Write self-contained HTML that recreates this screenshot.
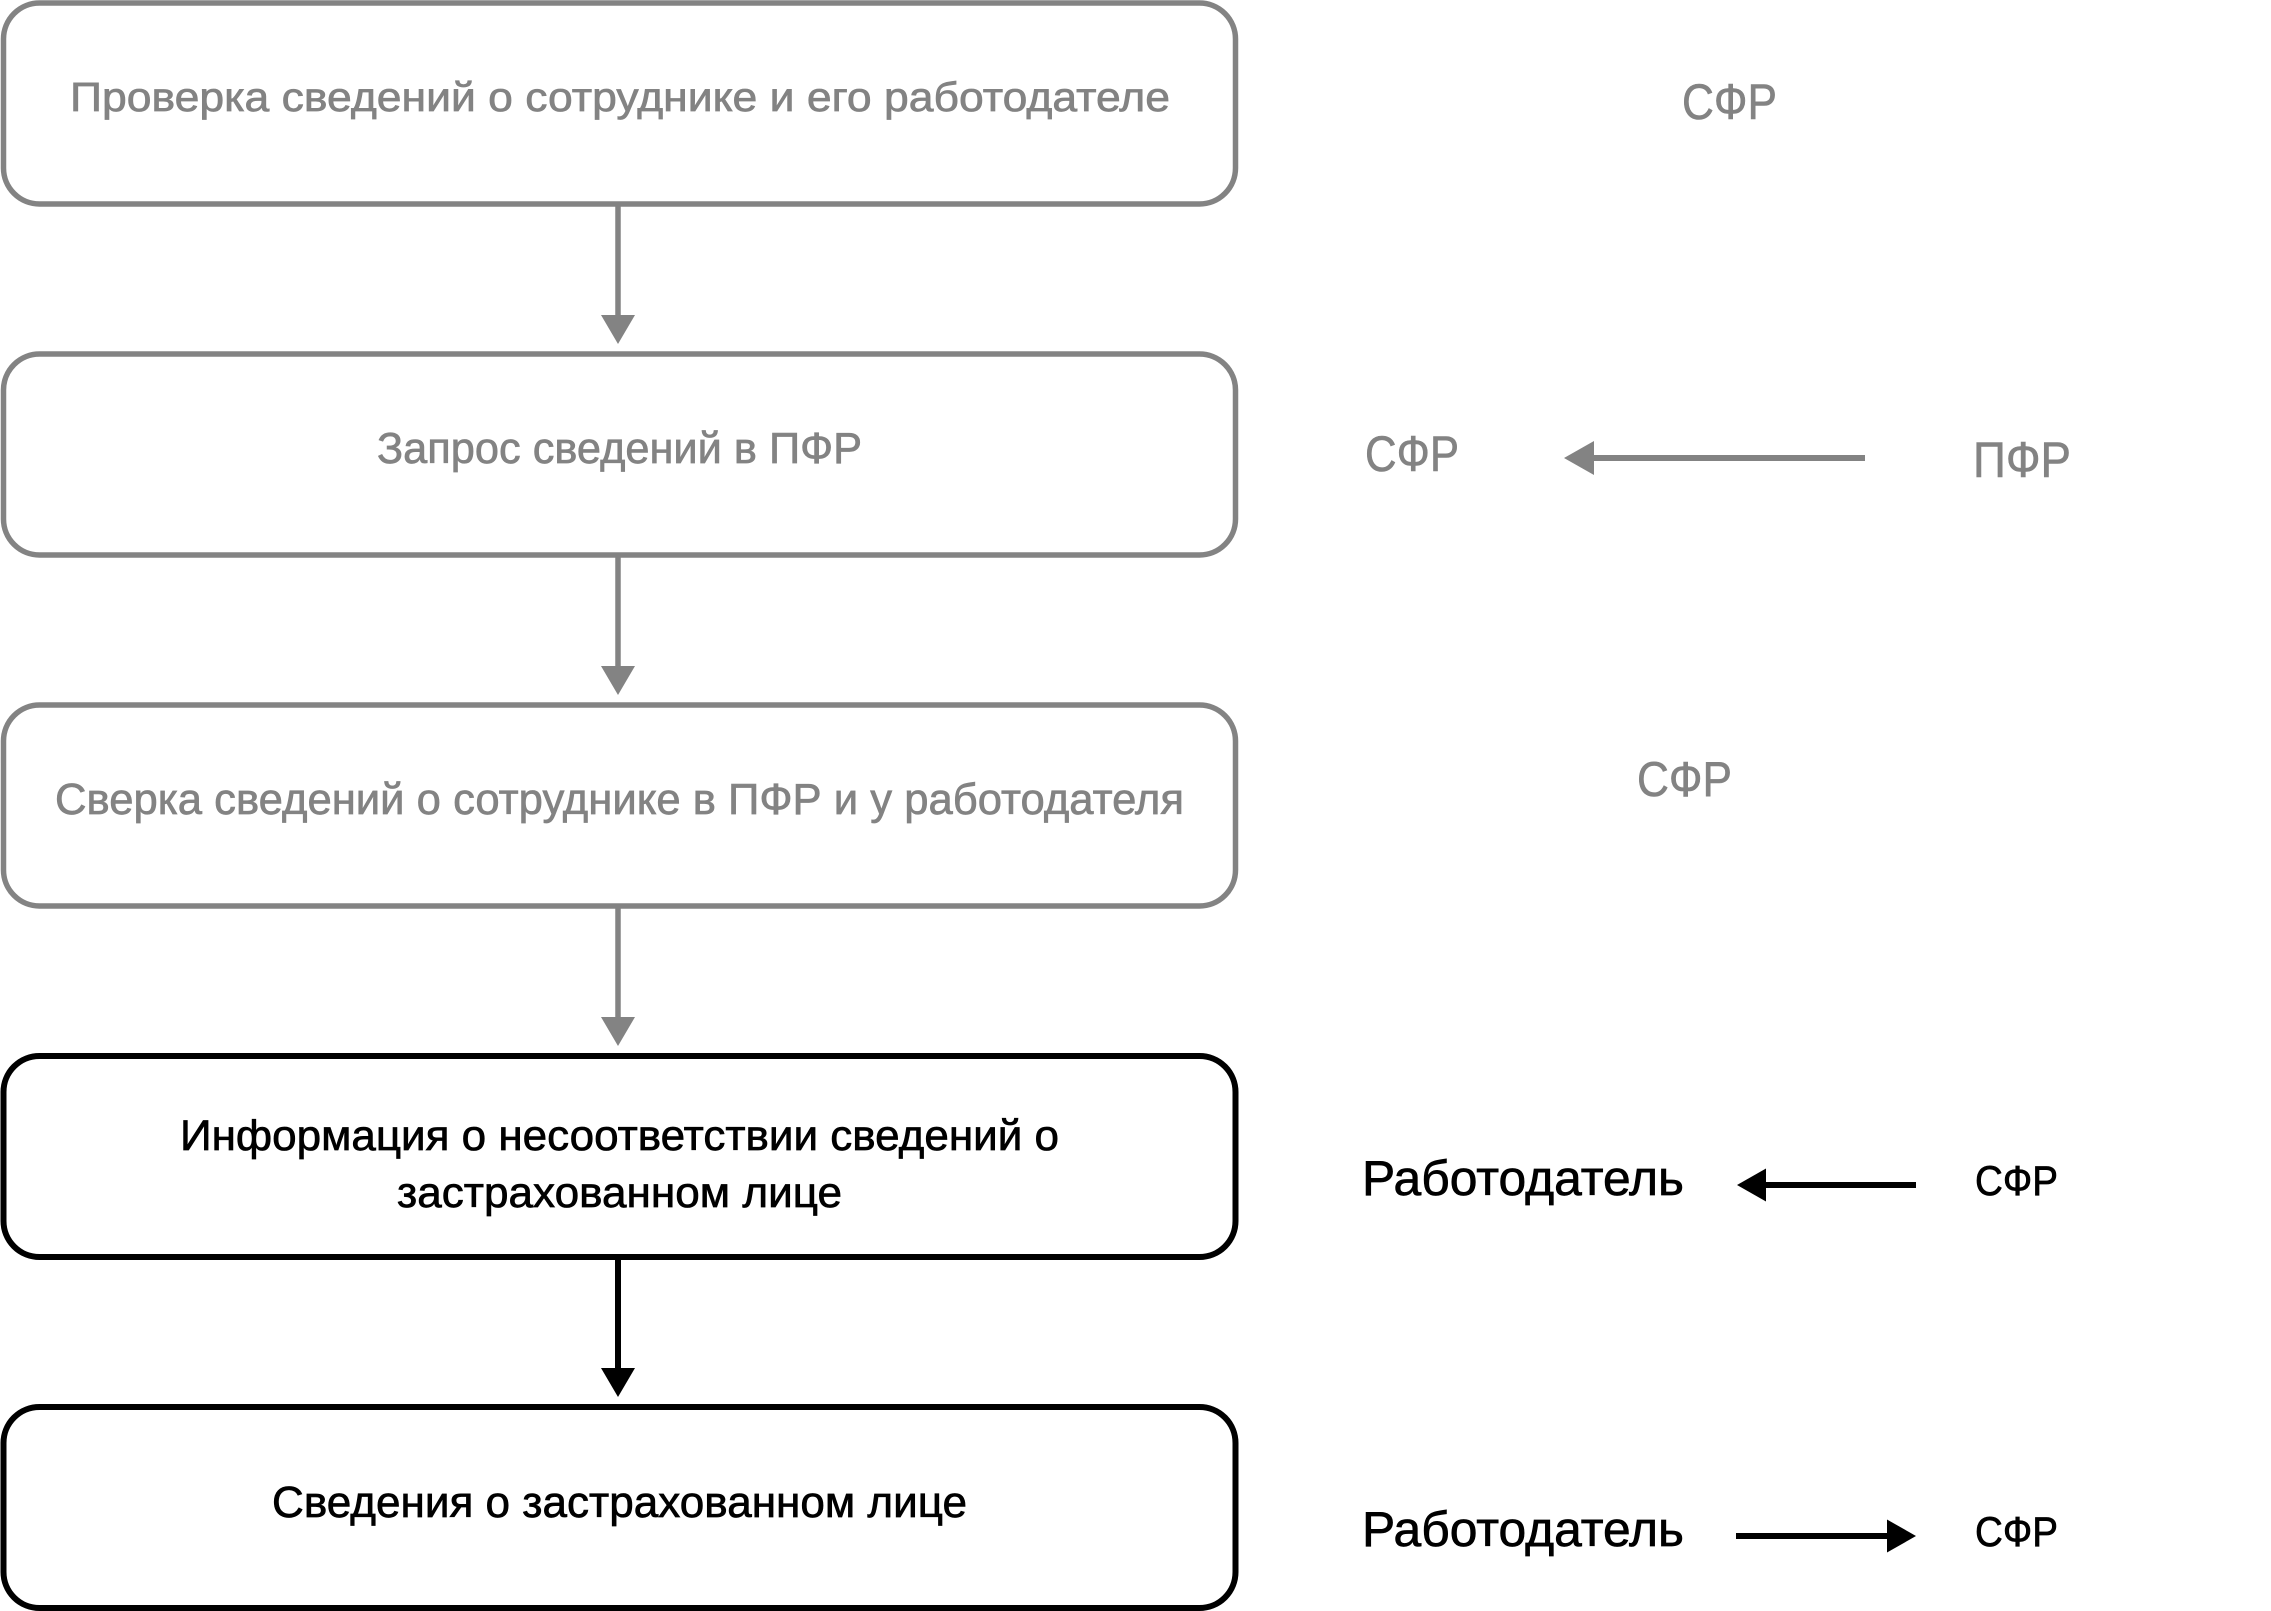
<!DOCTYPE html>
<html>
<head>
<meta charset="utf-8">
<style>
  html, body { margin: 0; padding: 0; background: #ffffff; }
  body { width: 2271px; height: 1611px; overflow: hidden; }
  svg { display: block; }
  text { font-family: "Liberation Sans", "DejaVu Sans", sans-serif; }
</style>
</head>
<body>
<svg width="2271" height="1611" viewBox="0 0 2271 1611" xmlns="http://www.w3.org/2000/svg">
  <rect x="0" y="0" width="2271" height="1611" fill="#ffffff"/>

  <!-- Boxes -->
  <g fill="#ffffff" stroke="#838383" stroke-width="5.5">
    <rect x="3.5" y="3" width="1232" height="201" rx="36" ry="36"/>
    <rect x="3.5" y="354" width="1232" height="201" rx="36" ry="36"/>
    <rect x="3.5" y="705" width="1232" height="201" rx="36" ry="36"/>
  </g>
  <g fill="#ffffff" stroke="#000000" stroke-width="6">
    <rect x="3.5" y="1056" width="1232" height="201" rx="36" ry="36"/>
    <rect x="3.5" y="1407" width="1232" height="201" rx="36" ry="36"/>
  </g>

  <!-- Vertical arrows -->
  <g stroke="#838383" stroke-width="5.5">
    <line x1="618" y1="206" x2="618" y2="318"/>
    <line x1="618" y1="557" x2="618" y2="669"/>
    <line x1="618" y1="908" x2="618" y2="1020"/>
  </g>
  <g fill="#838383">
    <polygon points="601,315 635,315 618,344"/>
    <polygon points="601,666 635,666 618,695"/>
    <polygon points="601,1017 635,1017 618,1046"/>
  </g>
  <line x1="618" y1="1259" x2="618" y2="1371" stroke="#000" stroke-width="6"/>
  <polygon points="601,1368 635,1368 618,1397" fill="#000"/>

  <!-- Box texts -->
  <g fill="#838383" stroke="#838383" stroke-width="0.7">
    <text x="70" y="111" font-size="41" textLength="1100" lengthAdjust="spacingAndGlyphs">Проверка сведений о сотруднике и его работодателе</text>
    <text x="377" y="463" font-size="44" textLength="485" lengthAdjust="spacingAndGlyphs">Запрос сведений в ПФР</text>
    <text x="55" y="814" font-size="44" textLength="1129" lengthAdjust="spacingAndGlyphs">Сверка сведений о сотруднике в ПФР и у работодателя</text>
  </g>
  <g fill="#000000" stroke="#000000" stroke-width="0.7">
    <text x="180" y="1150" font-size="43" textLength="879" lengthAdjust="spacingAndGlyphs">Информация о несоответствии сведений о</text>
    <text x="397" y="1207" font-size="43" textLength="445" lengthAdjust="spacingAndGlyphs">застрахованном лице</text>
    <text x="272" y="1517" font-size="44" textLength="695" lengthAdjust="spacingAndGlyphs">Сведения о застрахованном лице</text>
  </g>

  <!-- Right side labels: gray -->
  <g fill="#838383" stroke="#838383" stroke-width="0.6">
    <text x="1682" y="119" font-size="50" textLength="95" lengthAdjust="spacingAndGlyphs">СФР</text>
    <text x="1365" y="471" font-size="50" textLength="94" lengthAdjust="spacingAndGlyphs">СФР</text>
    <text x="1973" y="477" font-size="50" textLength="98" lengthAdjust="spacingAndGlyphs">ПФР</text>
    <text x="1637" y="796" font-size="49" textLength="95" lengthAdjust="spacingAndGlyphs">СФР</text>
  </g>
  <!-- Gray horizontal arrow (left-pointing) -->
  <line x1="1590" y1="458" x2="1865" y2="458" stroke="#838383" stroke-width="6"/>
  <polygon points="1564,458 1594,441 1594,475" fill="#838383"/>

  <!-- Right side labels: black -->
  <g fill="#000000" stroke="#000000" stroke-width="0.7">
    <text x="1362" y="1195" font-size="49" textLength="322" lengthAdjust="spacingAndGlyphs">Работодатель</text>
    <text x="1975" y="1195" font-size="42" textLength="83" lengthAdjust="spacingAndGlyphs">СФР</text>
    <text x="1362" y="1546" font-size="49" textLength="322" lengthAdjust="spacingAndGlyphs">Работодатель</text>
    <text x="1975" y="1546" font-size="42" textLength="83" lengthAdjust="spacingAndGlyphs">СФР</text>
  </g>
  <!-- Black horizontal arrows -->
  <line x1="1762" y1="1185" x2="1916" y2="1185" stroke="#000" stroke-width="6"/>
  <polygon points="1737,1185 1766,1168.5 1766,1201.5" fill="#000"/>
  <line x1="1736" y1="1536" x2="1890" y2="1536" stroke="#000" stroke-width="6"/>
  <polygon points="1916,1536 1887,1519.5 1887,1552.5" fill="#000"/>
</svg>
</body>
</html>
